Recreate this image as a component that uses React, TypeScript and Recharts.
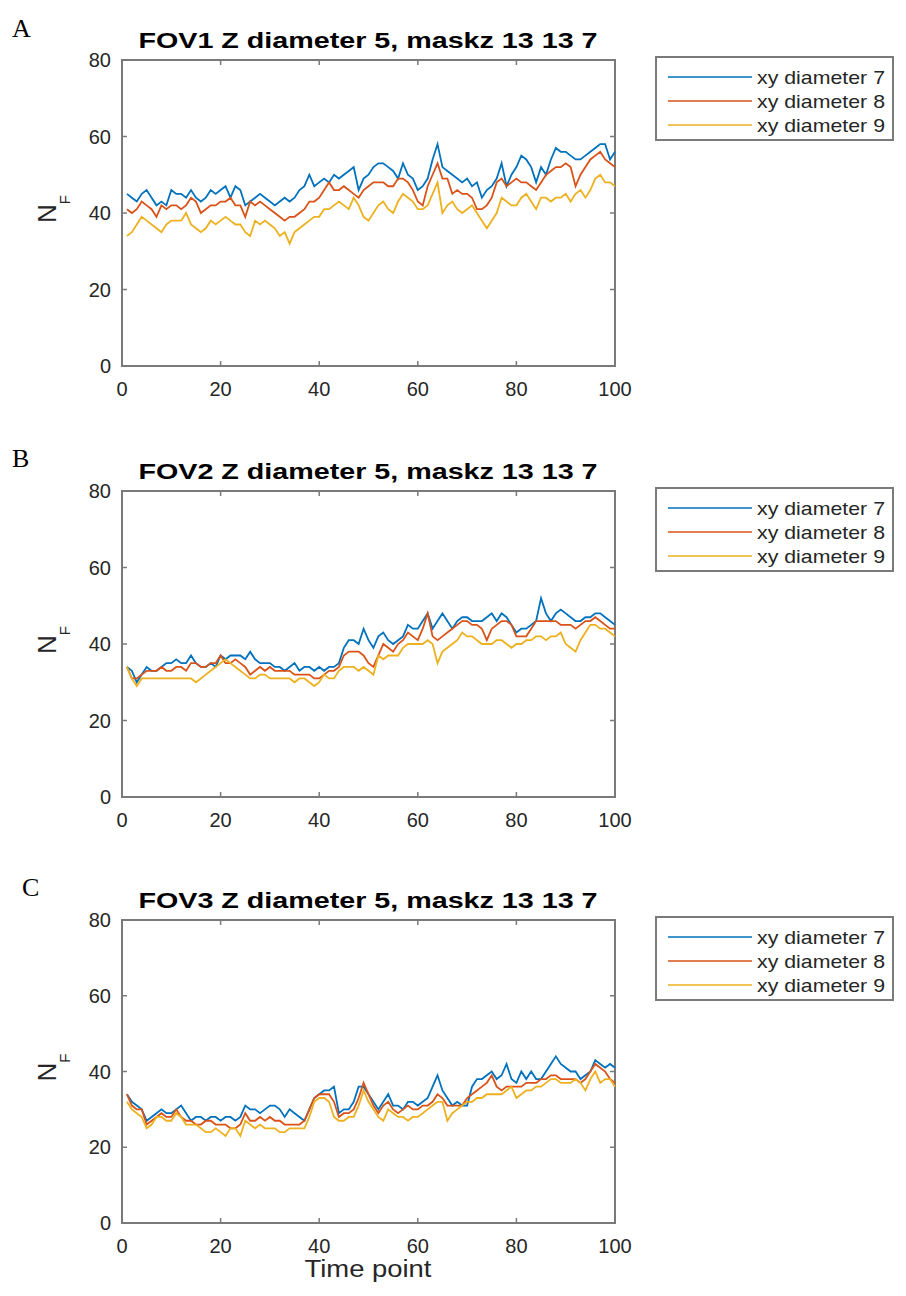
import { LineChart, Line, XAxis, YAxis, ReferenceArea } from "recharts";

// time points 1..100 on the x axis
const timePoints = Array.from({ length: 100 }, (_, i) => i + 1);
const xTicks = [0, 20, 40, 60, 80, 100];
const yTicks = [0, 20, 40, 60, 80];
const seriesNames = ["xy diameter 7", "xy diameter 8", "xy diameter 9"];
const seriesColors = ["#0072BD", "#D95319", "#EDB120"];

// FOV1
const fov1D7 = [
  45, 44, 43, 45, 46, 44, 42, 43, 42, 46, 45, 45, 44, 46, 44, 43, 44, 46, 45, 46,
  47, 44, 47, 46, 42, 43, 44, 45, 44, 43, 42, 43, 44, 43, 44, 46, 47, 50, 47, 48,
  49, 48, 50, 49, 50, 51, 52, 46, 49, 50, 52, 53, 53, 52, 51, 49, 53, 50, 49, 46,
  47, 49, 54, 58, 52, 51, 50, 49, 48, 49, 47, 48, 44, 46, 47, 49, 53, 47, 50, 52,
  55, 54, 52, 48, 52, 50, 54, 57, 56, 56, 55, 54, 54, 55, 56, 57, 58, 58, 54, 56,
];
const fov1D8 = [
  41, 40, 41, 43, 42, 41, 39, 42, 41, 42, 42, 41, 42, 44, 43, 40, 41, 42, 42, 43,
  43, 44, 42, 42, 39, 43, 42, 43, 42, 41, 40, 39, 38, 39, 39, 40, 41, 43, 43, 44,
  46, 48, 46, 46, 47, 46, 45, 44, 46, 47, 48, 48, 48, 47, 47, 49, 49, 48, 46, 43,
  42, 47, 50, 53, 49, 49, 45, 46, 45, 45, 44, 41, 41, 42, 44, 48, 49, 47, 48, 49,
  48, 48, 47, 46, 48, 50, 51, 52, 52, 53, 52, 47, 50, 52, 54, 55, 56, 54, 53, 52,
];
const fov1D9 = [
  34, 35, 37, 39, 38, 37, 36, 35, 37, 38, 38, 38, 40, 37, 36, 35, 36, 38, 37, 38,
  39, 38, 37, 37, 35, 34, 38, 37, 38, 37, 36, 34, 35, 32, 35, 36, 37, 38, 39, 39,
  41, 41, 42, 43, 42, 41, 44, 42, 39, 38, 40, 42, 43, 41, 40, 43, 45, 44, 43, 41,
  41, 42, 45, 48, 40, 42, 43, 41, 40, 41, 42, 40, 38, 36, 38, 40, 44, 43, 42, 42,
  44, 45, 43, 41, 44, 44, 43, 44, 44, 45, 43, 45, 46, 44, 46, 49, 50, 48, 48, 47,
];

// FOV2
const fov2D7 = [
  34, 33, 30, 32, 34, 33, 33, 34, 35, 35, 36, 35, 35, 37, 35, 34, 34, 35, 34, 37,
  36, 37, 37, 37, 36, 38, 36, 35, 35, 35, 34, 34, 33, 34, 35, 33, 34, 34, 33, 34,
  33, 34, 34, 35, 39, 41, 41, 40, 44, 41, 39, 42, 43, 41, 40, 41, 42, 45, 44, 44,
  46, 48, 44, 46, 48, 46, 44, 46, 47, 47, 46, 46, 46, 47, 48, 46, 48, 47, 45, 43,
  44, 44, 45, 46, 52, 48, 46, 48, 49, 48, 47, 46, 46, 47, 47, 48, 48, 47, 46, 45,
];
const fov2D8 = [
  34, 31, 31, 32, 33, 33, 33, 34, 33, 33, 34, 34, 33, 35, 35, 34, 34, 35, 35, 37,
  35, 35, 36, 35, 34, 32, 33, 34, 33, 34, 33, 33, 33, 33, 32, 32, 32, 32, 31, 31,
  32, 33, 33, 34, 37, 38, 38, 38, 37, 35, 34, 37, 40, 39, 38, 40, 41, 43, 42, 41,
  44, 48, 42, 41, 42, 43, 44, 45, 46, 46, 45, 45, 44, 41, 44, 45, 46, 46, 45, 42,
  42, 42, 44, 46, 46, 46, 46, 46, 45, 45, 45, 44, 45, 46, 46, 47, 46, 45, 44, 44,
];
const fov2D9 = [
  34, 31, 29, 31, 31, 31, 31, 31, 31, 31, 31, 31, 31, 31, 30, 31, 32, 33, 34, 35,
  36, 35, 34, 33, 32, 31, 31, 32, 32, 31, 31, 31, 31, 31, 30, 31, 31, 30, 29, 30,
  32, 31, 31, 33, 34, 34, 34, 33, 34, 33, 32, 37, 36, 37, 37, 37, 39, 40, 40, 40,
  40, 41, 40, 35, 38, 39, 40, 41, 43, 42, 42, 41, 40, 40, 40, 41, 41, 40, 39, 40,
  40, 41, 41, 42, 42, 41, 42, 42, 43, 40, 39, 38, 41, 43, 45, 45, 44, 44, 43, 42,
];

// FOV3
const fov3D7 = [
  34, 32, 31, 30, 27, 28, 29, 30, 29, 29, 30, 31, 29, 27, 28, 28, 27, 28, 28, 27,
  28, 28, 27, 28, 31, 30, 30, 29, 30, 31, 31, 30, 28, 30, 29, 28, 27, 30, 33, 34,
  35, 35, 36, 29, 30, 30, 32, 36, 36, 34, 32, 30, 32, 34, 31, 31, 30, 32, 32, 31,
  32, 33, 36, 39, 35, 33, 31, 32, 31, 31, 36, 38, 38, 39, 40, 38, 39, 42, 38, 37,
  40, 38, 40, 38, 38, 40, 42, 44, 42, 41, 40, 40, 38, 39, 40, 43, 42, 41, 42, 41,
];
const fov3D8 = [
  34, 31, 30, 30, 26, 27, 28, 29, 28, 28, 30, 28, 27, 27, 26, 26, 27, 27, 26, 26,
  26, 25, 25, 26, 29, 27, 27, 28, 27, 28, 27, 27, 26, 26, 26, 26, 27, 30, 33, 34,
  34, 34, 32, 28, 29, 29, 30, 33, 37, 34, 31, 29, 31, 32, 30, 29, 30, 31, 30, 30,
  31, 31, 32, 34, 33, 31, 31, 31, 31, 33, 34, 35, 36, 37, 39, 36, 35, 36, 36, 36,
  36, 37, 37, 37, 38, 38, 39, 39, 38, 38, 38, 38, 37, 38, 40, 42, 41, 40, 38, 37,
];
const fov3D9 = [
  32, 30, 29, 28, 25, 26, 28, 28, 27, 27, 29, 28, 26, 26, 26, 25, 24, 24, 25, 24,
  23, 25, 25, 23, 27, 26, 25, 26, 25, 25, 25, 24, 24, 25, 25, 25, 25, 28, 32, 33,
  33, 32, 28, 27, 27, 28, 28, 31, 35, 32, 30, 28, 27, 30, 29, 28, 28, 27, 28, 28,
  29, 30, 31, 32, 32, 27, 29, 30, 31, 32, 32, 33, 33, 34, 34, 34, 34, 35, 36, 33,
  34, 35, 35, 36, 36, 37, 38, 38, 37, 37, 37, 38, 37, 35, 38, 40, 37, 38, 38, 36,
];

const panels = [
  { letter: "A", lx: 12, ly: 37, title: "FOV1 Z diameter 5, maskz 13 13 7", series: [fov1D7, fov1D8, fov1D9], plotTop: 60, plotBottom: 366 },
  { letter: "B", lx: 12, ly: 467, title: "FOV2 Z diameter 5, maskz 13 13 7", series: [fov2D7, fov2D8, fov2D9], plotTop: 491, plotBottom: 797 },
  { letter: "C", lx: 22, ly: 896, title: "FOV3 Z diameter 5, maskz 13 13 7", series: [fov3D7, fov3D8, fov3D9], plotTop: 920, plotBottom: 1223 },
];

const FONT = '"Liberation Sans", Arial, sans-serif';
const AXIS = "#7a7a7a";
const TEXT = "#262626";
const TOP = 60;
const RIGHT = 615;

const XTick = ({ x, y, payload }: any) => (
  <g>
    <line x1={x} x2={x} y1={y} y2={y - 5} stroke={AXIS} strokeWidth={1.5} />
    <line x1={x} x2={x} y1={TOP} y2={TOP + 5} stroke={AXIS} strokeWidth={1.5} />
    <text x={x} y={y + 30} textAnchor="middle" fontSize={20} fill={TEXT} fontFamily={FONT}>
      {payload.value}
    </text>
  </g>
);

const YTick = ({ x, y, payload }: any) => (
  <g>
    <line x1={x} x2={x + 5} y1={y} y2={y} stroke={AXIS} strokeWidth={1.5} />
    <line x1={RIGHT} x2={RIGHT - 5} y1={y} y2={y} stroke={AXIS} strokeWidth={1.5} />
    <text x={x - 11} y={y + 7} textAnchor="end" fontSize={20} fill={TEXT} fontFamily={FONT}>
      {payload.value}
    </text>
  </g>
);

function Panel({ p }: any) {
  const height = p.plotBottom - p.plotTop + 100;
  const rows = timePoints.map((t, i) => ({
    t,
    d7: p.series[0][i],
    d8: p.series[1][i],
    d9: p.series[2][i],
  }));
  return (
    <div style={{ position: "absolute", left: 0, top: p.plotTop - TOP, width: 640, height }}>
      <LineChart width={640} height={height} data={rows} margin={{ top: TOP, right: 640 - RIGHT, bottom: 10, left: 62 }}>
        <XAxis
          type="number"
          dataKey="t"
          domain={[0, 100]}
          ticks={xTicks}
          interval={0}
          height={30}
          axisLine={false}
          tickLine={false}
          tickSize={0}
          tickMargin={0}
          tick={XTick}
        />
        <YAxis
          type="number"
          domain={[0, 80]}
          ticks={yTicks}
          interval={0}
          width={60}
          axisLine={false}
          tickLine={false}
          tickSize={0}
          tickMargin={0}
          tick={YTick}
        />
        {["d7", "d8", "d9"].map((k, i) => (
          <Line
            key={k}
            type="linear"
            dataKey={k}
            stroke={seriesColors[i]}
            strokeWidth={1.8}
            dot={false}
            isAnimationActive={false}
          />
        ))}
        <ReferenceArea x1={0} x2={100} y1={0} y2={80} fill="none" fillOpacity={0} stroke={AXIS} strokeWidth={2} />
      </LineChart>
    </div>
  );
}

function Annotations() {
  return (
    <svg width={906} height={1296} style={{ position: "absolute", left: 0, top: 0, pointerEvents: "none" }}>
      {panels.map((p) => {
        const mid = (p.plotTop + p.plotBottom) / 2;
        return (
          <g key={p.letter}>
            <text x={p.lx} y={p.ly} fontSize={26} fontFamily='"Liberation Serif", "Times New Roman", serif' fill="#000">
              {p.letter}
            </text>
            <text
              x={368}
              y={p.plotTop - 12}
              textAnchor="middle"
              fontSize={22}
              fontWeight="bold"
              fontFamily={FONT}
              fill="#000"
              textLength={459}
              lengthAdjust="spacingAndGlyphs"
            >
              {p.title}
            </text>
            <g transform={`translate(56,${mid + 10}) rotate(-90)`}>
              <text x={0} y={0} fontSize={26} fontFamily={FONT} fill={TEXT}>
                N
                <tspan dy={14} fontSize={15}>F</tspan>
              </text>
            </g>
            <rect x={656} y={p.plotTop - 3} width={237} height={83} fill="#fff" stroke={AXIS} strokeWidth={2} />
            {seriesNames.map((name, i) => {
              const ry = p.plotTop + 17 + i * 24;
              return (
                <g key={name}>
                  <line x1={668} x2={752} y1={ry} y2={ry} stroke={seriesColors[i]} strokeWidth={1.5} />
                  <text
                    x={757}
                    y={ry + 7}
                    fontSize={19}
                    fontFamily={FONT}
                    fill={TEXT}
                    textLength={128}
                    lengthAdjust="spacingAndGlyphs"
                  >
                    {name}
                  </text>
                </g>
              );
            })}
          </g>
        );
      })}
      <text
        x={368}
        y={1277}
        textAnchor="middle"
        fontSize={23}
        fontFamily={FONT}
        fill={TEXT}
        textLength={127}
        lengthAdjust="spacingAndGlyphs"
      >
        Time point
      </text>
    </svg>
  );
}

export default function App() {
  return (
    <div style={{ position: "absolute", left: 0, top: 0, width: 906, height: 1296, background: "#fff" }}>
      {panels.map((p) => (
        <Panel key={p.letter} p={p} />
      ))}
      <Annotations />
    </div>
  );
}
